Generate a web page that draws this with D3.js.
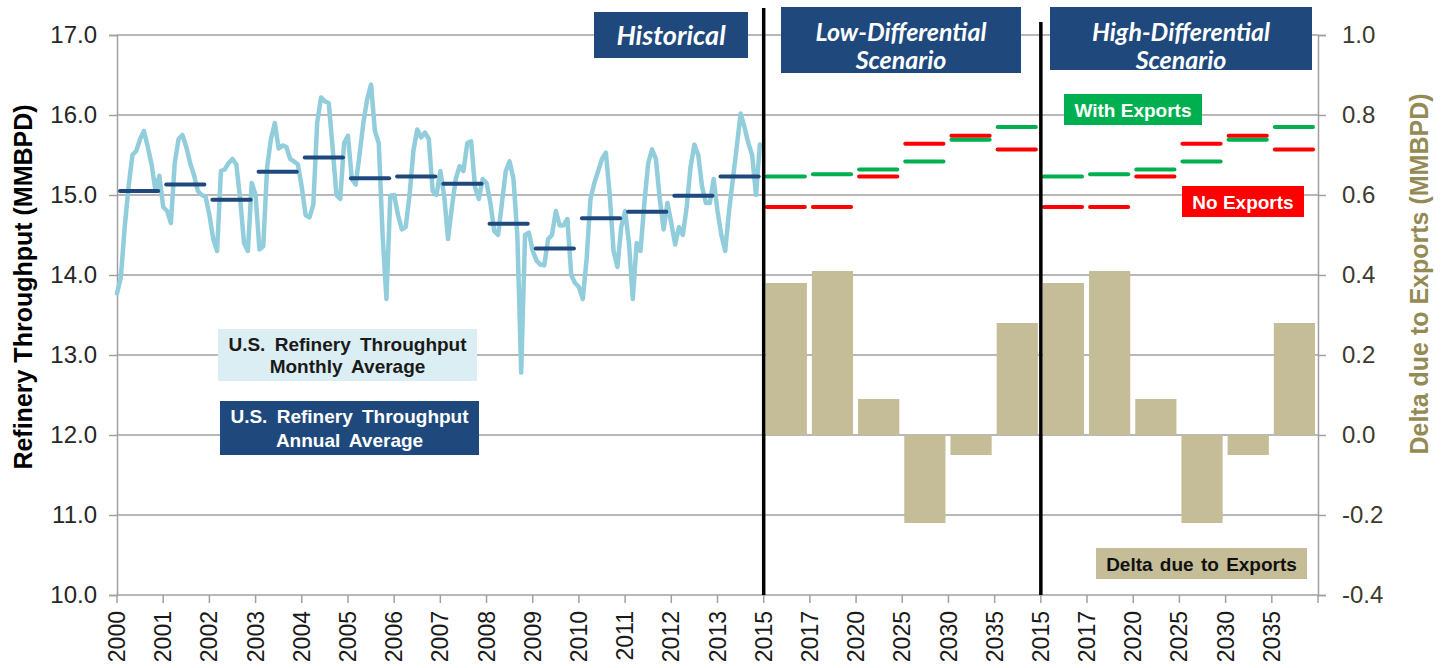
<!DOCTYPE html>
<html>
<head>
<meta charset="utf-8">
<script src="https://cdn.jsdelivr.net/npm/d3@7"></script>
<style>
  body { margin: 0; background: #fff; }
  svg { font-family: "Liberation Sans", Arial, sans-serif; }
</style>
</head>
<body>
<div class="svg-container"></div>
<script>
// categories on the x axis
const histYears = ['2000', '2001', '2002', '2003', '2004', '2005', '2006', '2007',
  '2008', '2009', '2010', '2011', '2012', '2013'];
const scenarioYears = ['2015', '2017', '2020', '2025', '2030', '2035'];

// monthly refinery throughput (MMBPD), 12 values per year 2000-2013
const monthlyThroughput = [
  13.77, 13.97, 14.60, 15.10, 15.50, 15.55, 15.70, 15.80, 15.60, 15.38, 15.05, 15.24,
  14.85, 14.80, 14.65, 15.40, 15.70, 15.75, 15.60, 15.40, 15.25, 15.05, 15.00, 14.98,
  14.75, 14.45, 14.30, 15.30, 15.32, 15.40, 15.45, 15.38, 14.95, 14.40, 14.30, 15.15,
  15.00, 14.32, 14.36, 15.35, 15.70, 15.90, 15.58, 15.62, 15.60, 15.45, 15.42, 15.38,
  15.10, 14.75, 14.72, 14.88, 15.90, 16.22, 16.17, 16.15, 15.60, 15.00, 14.95, 15.65,
  15.74, 15.20, 15.13, 15.50, 15.90, 16.20, 16.38, 15.80, 15.65, 14.50, 13.70, 14.99,
  15.00, 14.75, 14.57, 14.60, 15.00, 15.55, 15.82, 15.72, 15.78, 15.70, 15.05, 15.00,
  15.30, 14.99, 14.45, 14.85, 15.20, 15.36, 15.30, 15.65, 15.67, 15.10, 14.95, 15.20,
  15.15, 14.90, 14.55, 14.50, 14.90, 15.30, 15.42, 15.20, 14.50, 12.78, 14.50, 14.53,
  14.30, 14.18, 14.13, 14.12, 14.45, 14.50, 14.80, 14.62, 14.62, 14.70, 14.00, 13.90,
  13.85, 13.70, 14.20, 14.95, 15.15, 15.30, 15.45, 15.53, 15.00, 14.30, 14.10, 14.60,
  14.80, 14.40, 13.70, 14.40, 14.30, 14.90, 15.40, 15.57, 15.45, 14.95, 14.57, 14.90,
  14.65, 14.38, 14.60, 14.50, 14.85, 15.35, 15.63, 15.50, 15.10, 14.90, 14.90, 15.20,
  14.80, 14.50, 14.30, 14.80, 15.20, 15.60, 16.02, 15.85, 15.65, 15.50, 15.00, 15.63
];

// annual average throughput (MMBPD)
const annualAverage = [15.05, 15.13, 14.94, 15.29, 15.47, 15.21, 15.23, 15.14,
  14.64, 14.33, 14.71, 14.79, 14.99, 15.23];

// scenario throughput (MMBPD)
const lowWithExports = [15.23, 15.26, 15.32, 15.42, 15.69, 15.85];
const lowNoExports = [14.85, 14.85, 15.23, 15.64, 15.74, 15.57];
const highWithExports = [15.23, 15.26, 15.32, 15.42, 15.69, 15.85];
const highNoExports = [14.85, 14.85, 15.23, 15.64, 15.74, 15.57];

// delta due to exports (MMBPD), right axis
const lowDelta = [0.38, 0.41, 0.09, -0.22, -0.05, 0.28];
const highDelta = [0.38, 0.41, 0.09, -0.22, -0.05, 0.28];

const leftTicks = [10, 11, 12, 13, 14, 15, 16, 17];
const rightTicks = [-0.4, -0.2, 0, 0.2, 0.4, 0.6, 0.8, 1.0];

// dimensions
const width = 1444;
const height = 668;
const margin = { top: 35, right: 126, bottom: 73, left: 117 };

const svg = d3.select('.svg-container')
  .append('svg')
  .attr('width', width)
  .attr('height', height);

// category keys, one band per category
const keys = histYears.map(d => 'h' + d)
  .concat(scenarioYears.map(d => 'L' + d))
  .concat(scenarioYears.map(d => 'H' + d));

const x = d3.scaleBand()
  .domain(keys)
  .range([margin.left, width - margin.right])
  .padding(0);
const bw = x.bandwidth();

const yL = d3.scaleLinear().domain([10, 17]).range([height - margin.bottom, margin.top]);
const yR = d3.scaleLinear().domain([-0.4, 1.0]).range([height - margin.bottom, margin.top]);

const x0 = margin.left;
const x1 = width - margin.right;

// gridlines
svg.append('g')
  .selectAll('line')
  .data(leftTicks.slice(1))
  .enter()
  .append('line')
  .attr('x1', x0)
  .attr('x2', x1)
  .attr('y1', d => yL(d))
  .attr('y2', d => yL(d))
  .attr('stroke', '#a0a0a0')
  .attr('stroke-width', 1.5);

// left axis
const leftAxis = svg.append('g')
  .attr('transform', `translate(${x0},0)`)
  .call(d3.axisLeft(yL).tickValues(leftTicks).tickFormat(d3.format('.1f')).tickSize(8).tickPadding(12));
leftAxis.select('.domain').attr('stroke', '#a0a0a0').attr('stroke-width', 1.5);
leftAxis.selectAll('.tick line').attr('stroke', '#a0a0a0').attr('stroke-width', 1.5);
leftAxis.selectAll('text')
  .attr('font-size', 24)
  .attr('font-family', '"Liberation Sans", Arial, sans-serif')
  .attr('fill', '#262626');

// right axis
const rightAxis = svg.append('g')
  .attr('transform', `translate(${x1},0)`)
  .call(d3.axisRight(yR).tickValues(rightTicks).tickFormat(d3.format('.1f')).tickSize(8).tickPadding(16));
rightAxis.select('.domain').attr('stroke', '#a0a0a0').attr('stroke-width', 1.5);
rightAxis.selectAll('.tick line').attr('stroke', '#a0a0a0').attr('stroke-width', 1.5);
rightAxis.selectAll('text')
  .attr('font-size', 24)
  .attr('font-family', '"Liberation Sans", Arial, sans-serif')
  .attr('fill', '#3d3a2c')
  .text(d => d3.format('.1f')(d).replace('−', '-'));

// bottom axis: ticks on category boundaries, labels at left edge of each band
const bottom = svg.append('g')
  .attr('transform', `translate(0,${yL(10)})`);
bottom.append('line')
  .attr('x1', x0).attr('x2', x1)
  .attr('stroke', '#a0a0a0').attr('stroke-width', 1.5);
bottom.selectAll('line.tick')
  .data(keys.concat(['end']))
  .enter()
  .append('line')
  .attr('class', 'tick')
  .attr('x1', d => d === 'end' ? x1 : x(d))
  .attr('x2', d => d === 'end' ? x1 : x(d))
  .attr('y1', 0).attr('y2', 8)
  .attr('stroke', '#a0a0a0').attr('stroke-width', 1.5);
bottom.selectAll('text')
  .data(keys)
  .enter()
  .append('text')
  .attr('transform', d => `translate(${x(d)},16) rotate(-90)`)
  .attr('text-anchor', 'end')
  .attr('dy', '0.35em')
  .attr('font-size', 23)
  .attr('fill', '#1a1a1a')
  .text(d => d.slice(1));

// delta bars
const barData = scenarioYears.map((d, i) => ({ key: 'L' + d, v: lowDelta[i] }))
  .concat(scenarioYears.map((d, i) => ({ key: 'H' + d, v: highDelta[i] })));
svg.append('g')
  .selectAll('rect')
  .data(barData)
  .enter()
  .append('rect')
  .attr('x', d => x(d.key) + 2)
  .attr('width', bw - 5)
  .attr('y', d => yR(Math.max(0, d.v)))
  .attr('height', d => Math.abs(yR(d.v) - yR(0)))
  .attr('fill', '#c4bd97');

// monthly line
const monthly = monthlyThroughput.map((v, i) => ({
  x: x('h' + histYears[Math.floor(i / 12)]) + bw * (i % 12) / 12,
  v: v
}));
svg.append('path')
  .datum(monthly)
  .attr('fill', 'none')
  .attr('stroke', '#92cddc')
  .attr('stroke-width', 4.5)
  .attr('stroke-linejoin', 'round')
  .attr('stroke-linecap', 'round')
  .attr('d', d3.line().x(d => d.x).y(d => yL(d.v)));

// short horizontal dashes for annual / scenario values
function dashes(cls, data, colour) {
  svg.append('g')
    .selectAll('line')
    .data(data)
    .enter()
    .append('line')
    .attr('class', cls)
    .attr('x1', d => x(d.key) + 3)
    .attr('x2', d => x(d.key) + bw - 5)
    .attr('y1', d => yL(d.v))
    .attr('y2', d => yL(d.v))
    .attr('stroke', colour)
    .attr('stroke-width', 4)
    .attr('stroke-linecap', 'round');
}

dashes('annual', histYears.map((d, i) => ({ key: 'h' + d, v: annualAverage[i] })), '#1f497d');
dashes('noexp', scenarioYears.map((d, i) => ({ key: 'L' + d, v: lowNoExports[i] }))
  .concat(scenarioYears.map((d, i) => ({ key: 'H' + d, v: highNoExports[i] }))), '#ff0000');
dashes('withexp', scenarioYears.map((d, i) => ({ key: 'L' + d, v: lowWithExports[i] }))
  .concat(scenarioYears.map((d, i) => ({ key: 'H' + d, v: highWithExports[i] }))), '#00b050');

// scenario separators
svg.append('line')
  .attr('x1', x('L2015')).attr('x2', x('L2015'))
  .attr('y1', 8).attr('y2', yL(10))
  .attr('stroke', '#000').attr('stroke-width', 3.5);
svg.append('line')
  .attr('x1', x('H2015')).attr('x2', x('H2015'))
  .attr('y1', 22).attr('y2', yL(10))
  .attr('stroke', '#000').attr('stroke-width', 3.5);

// labelled boxes
function box(bx, by, bwid, bh, fill, lines, opts) {
  const g = svg.append('g');
  g.append('rect')
    .attr('x', bx).attr('y', by)
    .attr('width', bwid).attr('height', bh)
    .attr('fill', fill);
  lines.forEach((t, i) => {
    g.append('text')
      .attr('x', bx + bwid / 2 + (opts.dx || 0))
      .attr('y', by + opts.first + i * opts.lh)
      .attr('text-anchor', 'middle')
      .attr('font-family', opts.font || '"Liberation Sans", Arial, sans-serif')
      .attr('font-size', opts.size)
      .attr('font-weight', 'bold')
      .attr('font-style', opts.italic ? 'italic' : 'normal')
      .attr('word-spacing', opts.ws || 0)
      .attr('fill', opts.color)
      .text(t);
  });
}

const hdr = { font: 'Lato, "Open Sans", sans-serif', size: 25, italic: true, color: '#fff', lh: 28 };
box(594, 12, 154, 46, '#1f497d', ['Historical'], Object.assign({}, hdr, { first: 33, size: 27 }));
box(781, 7, 240, 66, '#1f497d', ['Low-Differential', 'Scenario'], Object.assign({}, hdr, { first: 34 }));
box(1050, 7, 262, 63, '#1f497d', ['High-Differential', 'Scenario'], Object.assign({}, hdr, { first: 34 }));

box(1064, 94, 138, 31, '#00b050', ['With Exports'], { size: 19, color: '#fff', first: 23, lh: 0 });
box(1182, 186, 122, 31, '#ff0000', ['No Exports'], { size: 19, color: '#fff', first: 23, lh: 0 });
box(1096, 548, 211, 31, '#c4bd97', ['Delta due to Exports'], { size: 19, color: '#111', first: 23, lh: 0, ws: 2 });

box(218, 329, 259, 52, '#daeef3', ['U.S. Refinery Throughput', 'Monthly Average'],
  { size: 19, color: '#1a1a1a', first: 22, lh: 22, ws: 4 });
box(220, 401, 259, 54, '#1f497d', ['U.S. Refinery Throughput', 'Annual Average'],
  { size: 19, color: '#fff', first: 22, lh: 24, ws: 4 });

// axis titles
svg.append('text')
  .attr('transform', `translate(32,287) rotate(-90)`)
  .attr('text-anchor', 'middle')
  .attr('font-size', 25)
  .attr('font-weight', 'bold')
  .attr('fill', '#000')
  .text('Refinery Throughput (MMBPD)');

svg.append('text')
  .attr('transform', `translate(1428,274) rotate(-90)`)
  .attr('text-anchor', 'middle')
  .attr('font-size', 25)
  .attr('font-weight', 'bold')
  .attr('fill', '#948a54')
  .text('Delta due to Exports (MMBPD)');
</script>
</body>
</html>
